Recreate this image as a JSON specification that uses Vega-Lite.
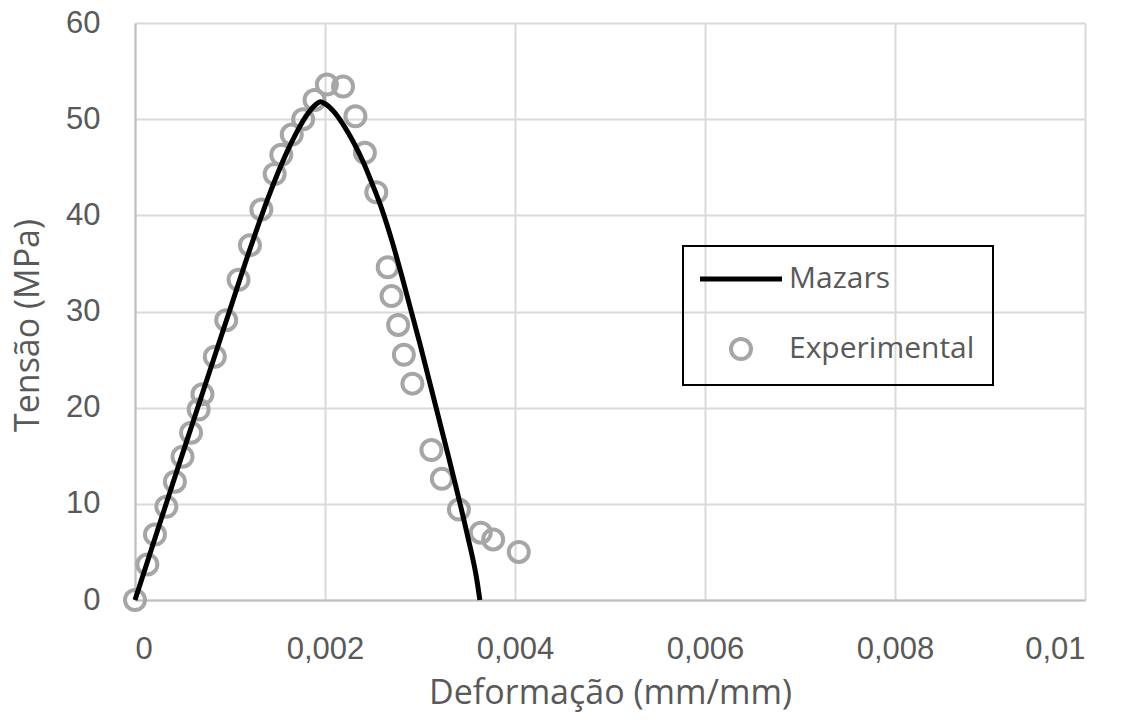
{
  "$schema": "https://vega.github.io/schema/vega-lite/v6.json",
  "autosize": {"type": "none"},
  "width": 950,
  "height": 577,
  "padding": {"left": 135, "top": 23, "right": 44, "bottom": 127},
  "background": "white",
  "config": {
    "view": {"stroke": null},
    "axis": {
      "grid": true,
      "gridColor": "#d9d9d9",
      "gridWidth": 2,
      "domainColor": "#bfbfbf",
      "domainWidth": 2,
      "ticks": false,
      "tickSize": 0,
      "labelColor": "#595959",
      "titleColor": "#595959",
      "labelFont": "Liberation Sans",
      "labelFontSize": 31,
      "titleFont": "Open Sans",
      "titleFontSize": 34,
      "titleFontWeight": "normal"
    }
  },
  "datasets": {
    "experimental": [
      {"x": 0, "y": 0, "series": "Experimental"},
      {"x": 0.00013, "y": 3.7, "series": "Experimental"},
      {"x": 0.00021, "y": 6.8, "series": "Experimental"},
      {"x": 0.00033, "y": 9.7, "series": "Experimental"},
      {"x": 0.00042, "y": 12.3, "series": "Experimental"},
      {"x": 0.0005, "y": 14.9, "series": "Experimental"},
      {"x": 0.00059, "y": 17.4, "series": "Experimental"},
      {"x": 0.00067, "y": 19.8, "series": "Experimental"},
      {"x": 0.00071, "y": 21.4, "series": "Experimental"},
      {"x": 0.00084, "y": 25.3, "series": "Experimental"},
      {"x": 0.00096, "y": 29.1, "series": "Experimental"},
      {"x": 0.00109, "y": 33.3, "series": "Experimental"},
      {"x": 0.00121, "y": 36.9, "series": "Experimental"},
      {"x": 0.00133, "y": 40.6, "series": "Experimental"},
      {"x": 0.00147, "y": 44.3, "series": "Experimental"},
      {"x": 0.00154, "y": 46.3, "series": "Experimental"},
      {"x": 0.00165, "y": 48.4, "series": "Experimental"},
      {"x": 0.00177, "y": 50.0, "series": "Experimental"},
      {"x": 0.00189, "y": 52.0, "series": "Experimental"},
      {"x": 0.00202, "y": 53.6, "series": "Experimental"},
      {"x": 0.00219, "y": 53.4, "series": "Experimental"},
      {"x": 0.00232, "y": 50.3, "series": "Experimental"},
      {"x": 0.00242, "y": 46.5, "series": "Experimental"},
      {"x": 0.00254, "y": 42.4, "series": "Experimental"},
      {"x": 0.00266, "y": 34.6, "series": "Experimental"},
      {"x": 0.0027, "y": 31.6, "series": "Experimental"},
      {"x": 0.00277, "y": 28.6, "series": "Experimental"},
      {"x": 0.00283, "y": 25.5, "series": "Experimental"},
      {"x": 0.00292, "y": 22.5, "series": "Experimental"},
      {"x": 0.00312, "y": 15.6, "series": "Experimental"},
      {"x": 0.00323, "y": 12.6, "series": "Experimental"},
      {"x": 0.00341, "y": 9.4, "series": "Experimental"},
      {"x": 0.00364, "y": 7.0, "series": "Experimental"},
      {"x": 0.00377, "y": 6.3, "series": "Experimental"},
      {"x": 0.00404, "y": 5.0, "series": "Experimental"}
    ],
    "mazars": [
      {"x": 0, "y": 0, "series": "Mazars"},
      {"x": 0.0002, "y": 6.1, "series": "Mazars"},
      {"x": 0.0004, "y": 12.2, "series": "Mazars"},
      {"x": 0.0006, "y": 18.2, "series": "Mazars"},
      {"x": 0.0008, "y": 24.2, "series": "Mazars"},
      {"x": 0.001, "y": 30.2, "series": "Mazars"},
      {"x": 0.0012, "y": 36.2, "series": "Mazars"},
      {"x": 0.0014, "y": 41.8, "series": "Mazars"},
      {"x": 0.0016, "y": 46.6, "series": "Mazars"},
      {"x": 0.0017, "y": 48.6, "series": "Mazars"},
      {"x": 0.0018, "y": 50.3, "series": "Mazars"},
      {"x": 0.0019, "y": 51.5, "series": "Mazars"},
      {"x": 0.00195, "y": 51.8, "series": "Mazars"},
      {"x": 0.002, "y": 51.6, "series": "Mazars"},
      {"x": 0.0021, "y": 50.7, "series": "Mazars"},
      {"x": 0.0022, "y": 49.3, "series": "Mazars"},
      {"x": 0.0023, "y": 47.6, "series": "Mazars"},
      {"x": 0.0024, "y": 45.6, "series": "Mazars"},
      {"x": 0.0025, "y": 43.2, "series": "Mazars"},
      {"x": 0.0026, "y": 40.6, "series": "Mazars"},
      {"x": 0.0027, "y": 37.5, "series": "Mazars"},
      {"x": 0.0028, "y": 34.0, "series": "Mazars"},
      {"x": 0.0029, "y": 30.3, "series": "Mazars"},
      {"x": 0.003, "y": 26.6, "series": "Mazars"},
      {"x": 0.0031, "y": 22.7, "series": "Mazars"},
      {"x": 0.0032, "y": 18.8, "series": "Mazars"},
      {"x": 0.0033, "y": 14.9, "series": "Mazars"},
      {"x": 0.0034, "y": 10.9, "series": "Mazars"},
      {"x": 0.0035, "y": 6.7, "series": "Mazars"},
      {"x": 0.0036, "y": 2.0, "series": "Mazars"},
      {"x": 0.00363, "y": 0, "series": "Mazars"}
    ]
  },
  "encoding": {
    "x": {
      "field": "x", "type": "quantitative",
      "scale": {"domain": [0, 0.01], "nice": false, "zero": false},
      "axis": {
        "title": "Deformação (mm/mm)",
        "values": [0, 0.002, 0.004, 0.006, 0.008, 0.01],
        "labelExpr": "replace(toString(datum.value), '.', ',')",
        "labelPadding": 34,
        "titlePadding": 12
      }
    },
    "y": {
      "field": "y", "type": "quantitative",
      "scale": {"domain": [0, 60], "nice": false},
      "axis": {
        "title": "Tensão (MPa)",
        "values": [0, 10, 20, 30, 40, 50, 60],
        "labelPadding": 35,
        "titleX": -107,
        "titleY": 302,
        "titleAngle": -90,
        "titleAlign": "center",
        "titleBaseline": "middle"
      }
    },
    "color": {
      "field": "series", "type": "nominal",
      "scale": {"domain": ["Mazars", "Experimental"], "range": ["black", "#a6a6a6"]},
      "legend": {
        "title": null,
        "orient": "none",
        "legendX": 548,
        "legendY": 223,
        "padding": 18,
        "rowPadding": 37,
        "symbolSize": 400,
        "symbolStrokeWidth": 4,
        "labelOffset": 58,
        "labelFont": "Open Sans",
        "labelFontSize": 30,
        "labelColor": "#595959",
        "labelLimit": 400,
        "strokeColor": "black",
        "encode": {
          "legend": {"update": {"strokeWidth": {"value": 2}}},
          "symbols": {
            "update": {
              "shape": {"signal": "datum.value === 'Mazars' ? 'M-1.6,0H6.6' : 'M3.5,0A1,1,0,1,1,1.5,0A1,1,0,1,1,3.5,0Z'"},
              "fill": {"value": "transparent"},
              "stroke": {"signal": "datum.value === 'Mazars' ? 'black' : '#a6a6a6'"},
              "strokeWidth": {"signal": "datum.value === 'Mazars' ? 5 : 4"},
              "opacity": {"value": 1}
            }
          }
        }
      }
    }
  },
  "layer": [
    {
      "data": {"name": "experimental"},
      "mark": {"type": "point", "filled": false, "size": 400, "strokeWidth": 4, "opacity": 1}
    },
    {
      "data": {"name": "mazars"},
      "mark": {"type": "line", "strokeWidth": 5, "interpolate": "monotone"}
    }
  ]
}
